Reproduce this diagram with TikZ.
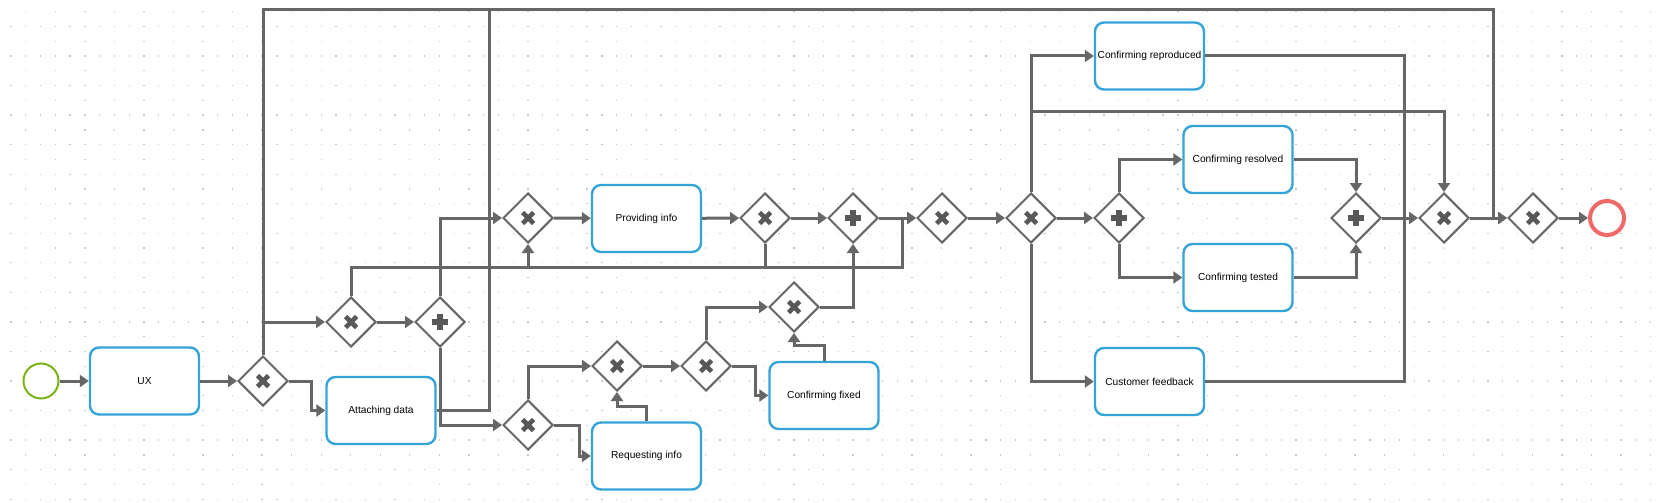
\documentclass[tikz,border=0pt]{standalone}
\usepackage{fontspec}
\setmainfont{Liberation Sans}
\usetikzlibrary{shapes.geometric,arrows.meta}
\definecolor{linec}{RGB}{102,102,102}
\definecolor{boxc}{RGB}{52,163,214}
\definecolor{startc}{RGB}{122,178,24}
\definecolor{endc}{RGB}{240,104,104}
\definecolor{markc}{RGB}{88,88,88}
\definecolor{dotc}{RGB}{200,200,200}
\begin{document}
\begin{tikzpicture}[x=1pt,y=-1pt,
 task/.style={draw=boxc, line width=2.4pt, fill=white, rounded corners=9pt, minimum width=109pt, minimum height=67pt, inner sep=0pt, font=\fontsize{10.2}{12}\selectfont, text=black},
 gw/.style={diamond, draw=linec, line width=2pt, fill=white, minimum width=50pt, minimum height=50pt, inner sep=0pt, aspect=1},
 xgw/.style={gw, path picture={\draw[markc, line width=4.6pt]
   ([shift={(-5.5pt,-5.5pt)}]path picture bounding box.center) -- ([shift={(5.5pt,5.5pt)}]path picture bounding box.center)
   ([shift={(-5.5pt,5.5pt)}]path picture bounding box.center) -- ([shift={(5.5pt,-5.5pt)}]path picture bounding box.center);}},
 pgw/.style={gw, path picture={\draw[markc, line width=6pt]
   ([shift={(-8pt,0pt)}]path picture bounding box.center) -- ([shift={(8pt,0pt)}]path picture bounding box.center)
   ([shift={(0pt,-8pt)}]path picture bounding box.center) -- ([shift={(0pt,8pt)}]path picture bounding box.center);}},
 flow/.style={draw=linec, line width=3pt, -{Triangle[length=9pt,width=12pt]}},
 seg/.style={draw=linec, line width=3pt},
]
\fill[white] (0,0) rectangle (1659,503);
\useasboundingbox (0,0) rectangle (1659,503);
% dot grid
\foreach \j in {0,...,33}{
  \ifodd\j\relax
    \foreach \i in {0,...,111}{\fill[dotc] ({10.4+14.77*\i},{11.1+14.77*\j}) rectangle ++(1.3,1.3);}
  \else
    \foreach \i in {1,3,...,111}{\fill[dotc] ({10.4+14.77*\i},{11.1+14.77*\j}) rectangle ++(1.3,1.3);}
  \fi
}
% events
\node[circle, draw=startc, line width=2pt, fill=white, minimum size=35pt, inner sep=0pt] (start) at (41,381) {};
\node[circle, draw=endc, line width=4pt, fill=white, minimum size=34pt, inner sep=0pt] (end) at (1607,218) {};
% tasks
\node[task] (ux)  at (144.5,381) {UX};
\node[task] (att) at (381,410.5) {Attaching data};
\node[task] (prov) at (646.5,218.5) {Providing info};
\node[task] (req) at (646.5,456) {Requesting info};
\node[task] (fix) at (824,395.5) {Confirming fixed};
\node[task] (rep) at (1149.5,56) {Confirming reproduced};
\node[task] (res) at (1238,159.5) {Confirming resolved};
\node[task] (tst) at (1238,277.5) {Confirming tested};
\node[task] (cfb) at (1149.5,381.5) {Customer feedback};
% gateways
\node[xgw] (g1) at (263,381) {};
\node[xgw] (g2) at (351,322) {};
\node[pgw] (g3) at (440,322) {};
\node[xgw] (g4) at (528,218) {};
\node[xgw] (g5) at (528,425) {};
\node[xgw] (g6) at (765,218) {};
\node[pgw] (g7) at (853,218) {};
\node[xgw] (g8) at (617,366) {};
\node[xgw] (g9) at (706,366) {};
\node[xgw] (g10) at (794,307) {};
\node[xgw] (g11) at (942,218) {};
\node[xgw] (g12) at (1031,218) {};
\node[pgw] (g13) at (1119,218) {};
\node[pgw] (g15) at (1356,218) {};
\node[xgw] (g14) at (1444,218) {};
\node[xgw] (g16) at (1533,218) {};
% junction points
\coordinate (a1) at (311,381);
\coordinate (t1) at (263,10);
\coordinate (t2) at (1493,10);
\coordinate (t3) at (489,10);
\coordinate (h1) at (351,267);
\coordinate (h2) at (902,267);
\coordinate (h3) at (1031,111);
\coordinate (v1) at (1404,218);
% flows
\draw[flow] (start) -- (ux);
\draw[flow] (ux) -- (g1);
\draw[flow] (g1.east) -- (a1) |- (att.west);
\draw[flow] (g1.north) |- (g2.west);
\draw[flow] (g1.north) -- (t1) -- (t2) |- (g16.west);
\draw[seg] (att.east) -| (t3);
\draw[flow] (g2) -- (g3);
\draw[flow] (g3.north) |- (g4.west);
\draw[flow] (g3.south) |- (g5.west);
\draw[flow] (g2.north) -- (h1) -| (g4.south);
\draw[flow] (h1) -- (h2) |- (g11.west);
\draw[seg] (g6.south) -- (g6.south |- h1);
\draw[flow] (g4) -- (prov);
\draw[flow] (prov) -- (g6);
\draw[flow] (g6) -- (g7);
\draw[flow] (g7) -- (g11);
\draw[flow] (g5.north) |- (g8.west);
\draw[flow] (g5.east) -- ++(25,0) |- (req.west);
\draw[flow] (req.north) -- ++(0,-15) -| (g8.south);
\draw[flow] (g8) -- (g9);
\draw[flow] (g9.north) |- (g10.west);
\draw[flow] (g9.east) -- ++(23,0) |- (fix.west);
\draw[flow] (fix.north) -- ++(0,-15) -| (g10.south);
\draw[flow] (g10.east) -| (g7.south);
\draw[flow] (g11) -- (g12);
\draw[flow] (g12) -- (g13);
\draw[flow] (g12.north) |- (rep.west);
\draw[flow] (g12.north) -- (h3) -| (g14.north);
\draw[flow] (g12.south) |- (cfb.west);
\draw[flow] (g13.north) |- (res.west);
\draw[flow] (g13.south) |- (tst.west);
\draw[flow] (res.east) -| (g15.north);
\draw[flow] (tst.east) -| (g15.south);
\draw[flow] (g15) -- (g14);
\draw[seg] (rep.east) -| (v1);
\draw[seg] (cfb.east) -| (v1);
\draw[flow] (g14) -- (g16);
\draw[flow] (g16) -- (end);
\end{tikzpicture}
\end{document}
